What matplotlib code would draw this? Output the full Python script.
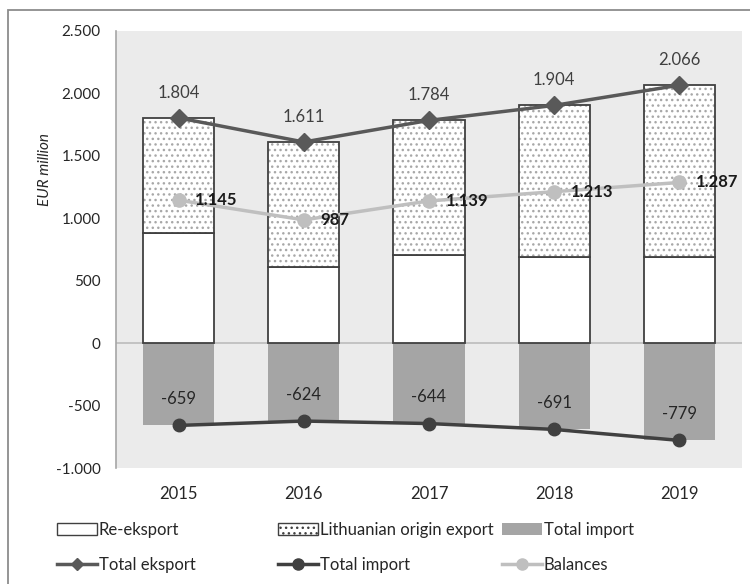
import matplotlib
matplotlib.use("Agg")
import matplotlib.pyplot as plt
from matplotlib.patches import Patch, Rectangle
from matplotlib.lines import Line2D
from matplotlib.ticker import FuncFormatter

plt.rcParams['font.family'] = ['Lato', 'DejaVu Sans']

years = ["2015", "2016", "2017", "2018", "2019"]
re_export = [883, 611, 705, 692, 692]
lt_origin = [921, 1000, 1079, 1212, 1374]
total_export = [1804, 1611, 1784, 1904, 2066]
total_import = [-659, -624, -644, -691, -779]
balances = [1145, 987, 1139, 1213, 1287]


def eu(v):
    # thousands separator as a dot
    s = f"{abs(int(round(v))):,}".replace(",", ".")
    return "-" + s if v < 0 else s


fig = plt.figure(figsize=(7.5, 5.84), dpi=100)
fig.patches.append(Rectangle((8 / 750, -0.1), 1.2, 1 - 10 / 584 + 0.1,
                             transform=fig.transFigure, fill=False,
                             edgecolor="#8c8c8c", linewidth=1.3))

ax = fig.add_axes([116 / 750, 1 - 468 / 584, 626 / 750, 437 / 584])
ax.set_facecolor("#ebebeb")

x = list(range(len(years)))
w = 0.57
edge = "#404040"

ax.bar(x, total_import, width=w, color="#a5a5a5", linewidth=0, zorder=2)
ax.bar(x, re_export, width=w, color="white", edgecolor=edge, linewidth=1.3, zorder=2)
# dotted part: hatch layer first, then the outline on top
ax.bar(x, lt_origin, bottom=re_export, width=w, color="white", hatch="...",
       edgecolor="#a8a8a8", linewidth=0, zorder=2)
ax.bar(x, lt_origin, bottom=re_export, width=w, fill=False,
       edgecolor=edge, linewidth=1.3, zorder=3)

ax.axhline(0, color="#bfbfbf", linewidth=1.3, zorder=1)

ax.plot(x, total_export, color="#595959", linewidth=2.5, marker="D",
        markersize=9, zorder=5)
ax.plot(x, total_import, color="#404040", linewidth=2.5, marker="o",
        markersize=9, zorder=5)
ax.plot(x, balances, color="#bfbfbf", linewidth=2.5, marker="o",
        markersize=9.5, zorder=5)

for i in x:
    ax.annotate(eu(total_export[i]), (i, total_export[i]), xytext=(0, 18),
                textcoords="offset points", ha="center", va="center",
                fontsize=12, color="#404040", zorder=6)
    ax.annotate(eu(total_import[i]), (i, total_import[i]), xytext=(0, 19),
                textcoords="offset points", ha="center", va="center",
                fontsize=12, color="#262626", zorder=6)
    ax.annotate(eu(balances[i]), (i, balances[i]), xytext=(12, 0),
                textcoords="offset points", ha="left", va="center",
                fontsize=12, fontweight="bold", color="#1a1a1a", zorder=6)

ax.set_xlim(-0.5, 4.5)
ax.set_ylim(-1000, 2500)
ax.set_yticks(range(-1000, 2501, 500))
ax.yaxis.set_major_formatter(FuncFormatter(lambda v, p: eu(v)))
ax.set_xticks(x)
ax.set_xticklabels(years)
ax.tick_params(axis="y", length=0, pad=11, labelsize=11, labelcolor="#262626")
ax.tick_params(axis="x", length=0, pad=13, labelsize=12, labelcolor="#262626")
for s in ["top", "right", "bottom"]:
    ax.spines[s].set_visible(False)
ax.spines["left"].set_color("#a6a6a6")
ax.spines["left"].set_linewidth(1.2)

fig.text(45 / 750, 1 - 170 / 584, "EUR million", rotation=90, style="italic",
         ha="center", va="center", fontsize=11, color="#262626")

# legend entries placed one by one
items = [
    (Patch(facecolor="white", edgecolor=edge, linewidth=1), "Re-eksport", 57, 530),
    (Patch(facecolor="white", edgecolor=edge, hatch="...", linewidth=1),
     "Lithuanian origin export", 278, 530),
    (Patch(facecolor="#a5a5a5", linewidth=0), "Total import", 502, 530),
    (Line2D([], [], color="#595959", linewidth=2.5, marker="D", markersize=6),
     "Total eksport", 57, 565),
    (Line2D([], [], color="#404040", linewidth=2.5, marker="o", markersize=8),
     "Total import", 278, 565),
    (Line2D([], [], color="#bfbfbf", linewidth=2.5, marker="o", markersize=8),
     "Balances", 502, 565),
]
for h, lab, px, py in items:
    fig.legend([h], [lab], loc="center left",
               bbox_to_anchor=(px / 750, 1 - py / 584), frameon=False,
               fontsize=12, handlelength=2.4, handleheight=0.75,
               handletextpad=0.1, borderpad=0, borderaxespad=0,
               labelcolor="#262626")

fig.savefig("out.png", dpi=100)
